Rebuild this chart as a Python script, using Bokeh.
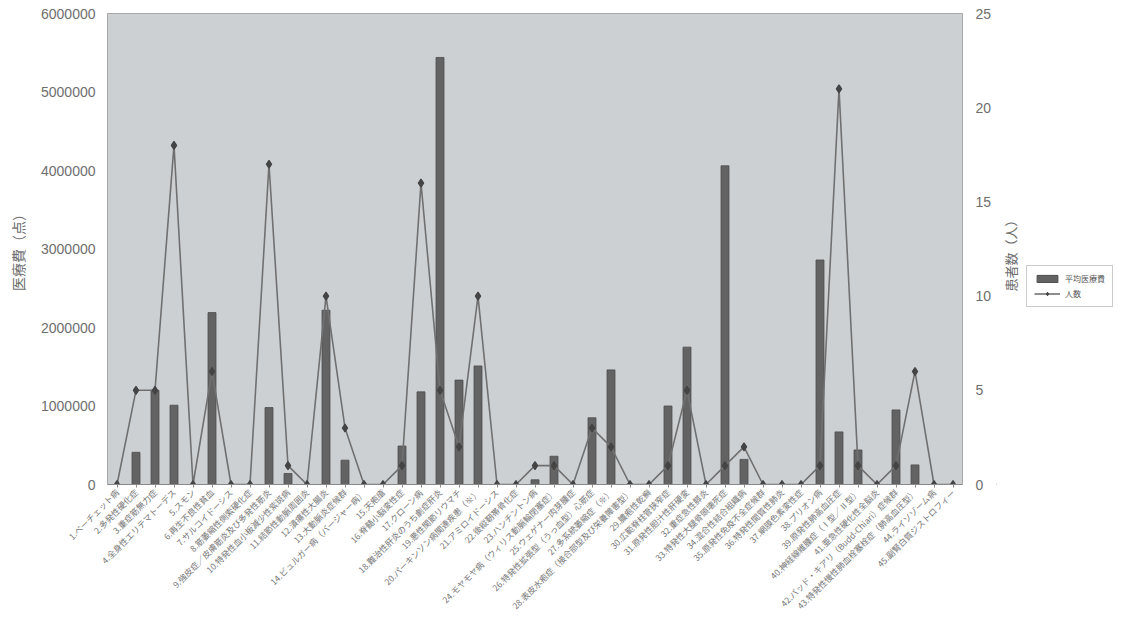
import math
from bokeh.plotting import figure
from bokeh.layouts import row
from bokeh.models import (Range1d, LinearAxis, FixedTicker, BasicTickFormatter,
                          Legend, LegendItem)
from bokeh.core.properties import value
from bokeh.embed import file_html
from bokeh.resources import INLINE

diseases = [
    "1.ベーチェット病", "2.多発性硬化症", "3.重症筋無力症", "4.全身性エリテマトーデス",
    "5.スモン", "6.再生不良性貧血", "7.サルコイドーシス", "8.筋萎縮性側索硬化症",
    "9.強皮症／皮膚筋炎及び多発性筋炎", "10.特発性血小板減少性紫斑病", "11.結節性動脈周囲炎",
    "12.潰瘍性大腸炎", "13.大動脈炎症候群", "14.ビュルガー病（バージャー病）", "15.天疱瘡",
    "16.脊髄小脳変性症", "17.クローン病", "18.難治性肝炎のうち劇症肝炎", "19.悪性関節リウマチ",
    "20.パーキンソン病関連疾患（※）", "21.アミロイドーシス", "22.後縦靭帯骨化症",
    "23.ハンチントン病", "24.モヤモヤ病（ウィリス動脈輪閉塞症）", "25.ウェゲナー肉芽腫症",
    "26.特発性拡張型（うっ血型）心筋症", "27.多系統萎縮症（※）",
    "28.表皮水疱症（接合部型及び栄養障害型）", "29.膿疱性乾癬", "30.広範脊柱管狭窄症",
    "31.原発性胆汁性肝硬変", "32.重症急性膵炎", "33.特発性大腿骨頭壊死症", "34.混合性結合組織病",
    "35.原発性免疫不全症候群", "36.特発性間質性肺炎", "37.網膜色素変性症", "38.プリオン病",
    "39.原発性肺高血圧症", "40.神経線維腫症（Ⅰ型／Ⅱ型）", "41.亜急性硬化性全脳炎",
    "42.バッド・キアリ（Budd-Chiari）症候群", "43.特発性慢性肺血栓塞栓症（肺高血圧型）",
    "44.ライソゾーム病", "45.副腎白質ジストロフィー",
]

avg_cost = [
    0, 410000, 1200000, 1010000, 0, 2190000, 0, 0, 980000, 140000,
    0, 2220000, 310000, 0, 0, 490000, 1180000, 5440000, 1330000, 1510000,
    0, 0, 60000, 360000, 0, 850000, 1460000, 0, 0, 1000000,
    1750000, 0, 4060000, 320000, 0, 0, 0, 2860000, 670000, 440000,
    0, 950000, 250000, 0, 0,
]

patients = [
    0, 5, 5, 18, 0, 6, 0, 0, 17, 1,
    0, 10, 3, 0, 0, 1, 16, 5, 2, 10,
    0, 0, 1, 1, 0, 3, 2, 0, 0, 1,
    5, 0, 1, 2, 0, 0, 0, 1, 21, 1,
    0, 1, 6, 0, 0,
]

cost_ticks = [0, 1000000, 2000000, 3000000, 4000000, 5000000, 6000000]
count_ticks = [0, 5, 10, 15, 20, 25]

series_names = ["平均医療費", "人数"]
left_title = "医療費（点）"
right_title = "患者数（人）"

TXT = "#6e6e6e"
JP = "Noto Sans CJK JP"
NUM = "Liberation Sans"
BAR_FILL = "#636363"
BAR_LINE = "#4c4c4c"
LINE_C = "#707070"
MARK_C = "#444444"

H = 620
W1 = 996
W2 = 144
TOP = 13
BOTTOM = 136

p = figure(x_range=diseases, y_range=Range1d(0, 6000000),
           width=W1, height=H, output_backend="svg", toolbar_location=None,
           min_border_left=107, min_border_right=34, min_border_top=TOP,
           min_border_bottom=BOTTOM)
p.extra_y_ranges = {"count": Range1d(0, 25)}

p.background_fill_color = "#cdd0d3"
p.border_fill_color = "white"
p.outline_line_color = "#a8a8a8"
p.grid.visible = False

p.vbar(x=diseases, top=avg_cost, width=0.42, fill_color=BAR_FILL,
       line_color=BAR_LINE, line_width=0.8)
p.line(x=diseases, y=patients, y_range_name="count", line_color=LINE_C,
       line_width=1.6)
p.scatter(x=diseases, y=patients, y_range_name="count", marker="diamond",
          size=8, fill_color=MARK_C, line_color=MARK_C, line_width=1.2)

# left axis
ya = p.yaxis[0]
ya.ticker = FixedTicker(ticks=cost_ticks)
ya.formatter = BasicTickFormatter(use_scientific=False)
ya.axis_label = left_title
ya.axis_label_text_font = JP
ya.axis_label_text_font_size = "14px"
ya.axis_label_text_font_style = "normal"
ya.axis_label_text_color = TXT
ya.axis_label_standoff = 10
ya.major_label_text_font = NUM
ya.major_label_text_font_size = "14px"
ya.major_label_text_color = TXT
ya.major_label_standoff = 12
ya.major_tick_out = 0
ya.major_tick_in = 0
ya.minor_tick_out = 0
ya.minor_tick_in = 0
ya.axis_line_color = "#a8a8a8"

# right axis (ticks only; title drawn in side figure)
ra = LinearAxis(y_range_name="count", ticker=FixedTicker(ticks=count_ticks))
ra.major_label_text_font = NUM
ra.major_label_text_font_size = "14px"
ra.major_label_text_color = TXT
ra.major_label_standoff = 13
ra.major_tick_out = 0
ra.major_tick_in = 0
ra.minor_tick_out = 0
ra.minor_tick_in = 0
ra.axis_line_color = "#a8a8a8"
p.add_layout(ra, "right")

# x axis
xa = p.xaxis[0]
xa.major_label_orientation = math.pi / 4
xa.major_label_text_font = JP
xa.major_label_text_font_size = "8.5px"
xa.major_label_text_color = "#777777"
xa.major_label_standoff = 3
xa.major_tick_out = 3
xa.major_tick_in = 0
xa.major_tick_line_color = "#8a8a8a"
xa.axis_line_color = "#8a8a8a"

# side figure: right axis title + legend (frame aligned with main frame)
s = figure(width=W2, height=H, x_range=Range1d(0, W2),
           y_range=Range1d(BOTTOM, H - TOP),
           output_backend="svg", toolbar_location=None,
           min_border_left=0, min_border_right=0, min_border_top=TOP,
           min_border_bottom=BOTTOM)
s.axis.visible = False
s.grid.visible = False
s.outline_line_color = None
s.background_fill_color = "white"
s.border_fill_color = "white"

s.text(x=[14], y=[H - 252], text=[right_title], angle=math.pi / 2,
       text_align="center", text_baseline="middle",
       text_font=value(JP), text_font_size="13px", text_color=TXT)

# legend proxies placed outside the visible range
d_bar = s.vbar(x=[-500], top=[-500], bottom=[-600], width=1,
               fill_color=BAR_FILL, line_color=BAR_LINE)
d_line = s.line(x=[-500, -490], y=[-500, -500], line_color=LINE_C, line_width=1.6)
d_pts = s.scatter(x=[-500], y=[-500], marker="diamond", size=7,
                  fill_color=MARK_C, line_color=MARK_C)

legend = Legend(items=[LegendItem(label=series_names[0], renderers=[d_bar]),
                       LegendItem(label=series_names[1], renderers=[d_line, d_pts])],
                location=(30, (H - BOTTOM) - 307))
legend.label_text_font = JP
legend.label_text_font_size = "8px"
legend.label_text_color = "#555555"
legend.glyph_width = 26
legend.glyph_height = 9
legend.label_height = 9
legend.spacing = 4
legend.padding = 7
legend.margin = 0
legend.label_standoff = 5
legend.border_line_color = "#999999"
legend.background_fill_color = "white"
s.add_layout(legend)

open("out.html", "w").write(file_html(row(p, s), INLINE))
